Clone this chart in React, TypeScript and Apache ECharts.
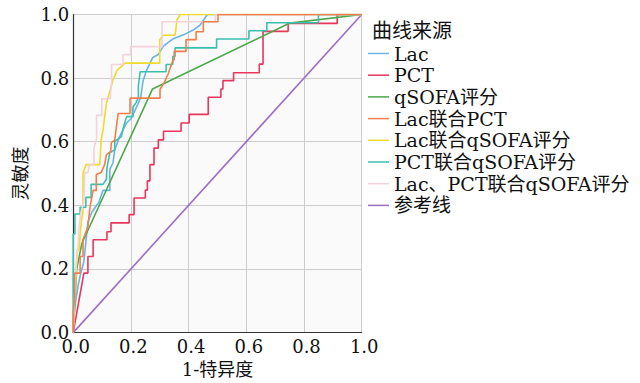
import React, { useEffect, useRef } from "react";
import * as echarts from "echarts";

const seriesNames = [
  "Lac",
  "PCT",
  "qSOFA评分",
  "Lac联合PCT",
  "Lac联合qSOFA评分",
  "PCT联合qSOFA评分",
  "Lac、PCT联合qSOFA评分",
  "参考线",
];
const seriesColors = ["#6cb4e4", "#e8365d", "#4ba84b", "#f27e4b", "#f0da2e", "#3bbfae", "#f2d3da", "#9b6fc4"];

const xTicks = [0, 0.2, 0.4, 0.6, 0.8, 1.0];

const lacRoc = [
  [0, 0], [0.006, 0.085], [0.017, 0.147], [0.024, 0.178], [0.037, 0.224], [0.044, 0.286], [0.051, 0.348],
  [0.065, 0.379], [0.089, 0.41], [0.103, 0.447], [0.127, 0.447], [0.127, 0.513], [0.138, 0.534], [0.144, 0.575],
  [0.161, 0.616], [0.184, 0.658], [0.201, 0.673], [0.225, 0.72], [0.234, 0.739], [0.242, 0.791], [0.253, 0.822],
  [0.276, 0.865], [0.295, 0.874], [0.312, 0.9], [0.347, 0.924], [0.382, 0.936], [0.416, 0.951], [0.44, 0.967],
  [0.465, 1], [1, 1],
];

const pctRoc = [
  [0, 0], [0.037, 0.187], [0.051, 0.187], [0.051, 0.239], [0.069, 0.239], [0.069, 0.292], [0.117, 0.292],
  [0.117, 0.317], [0.131, 0.317], [0.131, 0.345], [0.194, 0.345], [0.194, 0.371], [0.211, 0.371], [0.211, 0.423],
  [0.25, 0.423], [0.25, 0.448], [0.257, 0.448], [0.257, 0.477], [0.266, 0.477], [0.266, 0.528], [0.28, 0.528],
  [0.28, 0.58], [0.295, 0.58], [0.295, 0.606], [0.313, 0.606], [0.313, 0.633], [0.374, 0.633], [0.374, 0.659],
  [0.402, 0.659], [0.402, 0.686], [0.468, 0.686], [0.468, 0.74], [0.512, 0.74], [0.512, 0.766], [0.519, 0.766],
  [0.519, 0.792], [0.556, 0.792], [0.556, 0.817], [0.645, 0.817], [0.645, 0.844], [0.658, 0.844], [0.658, 0.947],
  [0.745, 0.947], [0.745, 0.972], [0.915, 0.972], [0.915, 1], [1, 1],
];

const qsofaRoc = [[0, 0], [0.012, 0.2], [0.03, 0.28], [0.275, 0.766], [0.751, 0.973], [1, 1]];

const lacPctRoc = [
  [0, 0], [0, 0.054], [0.005, 0.116], [0.005, 0.187], [0.024, 0.187], [0.024, 0.239], [0.034, 0.239],
  [0.034, 0.292], [0.051, 0.332], [0.058, 0.394], [0.069, 0.447], [0.08, 0.447], [0.08, 0.497], [0.097, 0.503],
  [0.109, 0.528], [0.115, 0.559], [0.13, 0.57], [0.132, 0.596], [0.144, 0.606], [0.149, 0.642], [0.156, 0.689],
  [0.197, 0.689], [0.197, 0.737], [0.301, 0.737], [0.301, 0.765], [0.315, 0.785], [0.329, 0.813], [0.343, 0.85],
  [0.35, 0.859], [0.35, 0.884], [0.391, 0.884], [0.391, 0.921], [0.426, 0.921], [0.426, 0.946], [0.451, 0.946],
  [0.451, 0.977], [0.502, 0.977], [0.502, 1], [1, 1],
];

const lacQsofaRoc = [
  [0, 0], [0.003, 0.08], [0.007, 0.14], [0.01, 0.2], [0.014, 0.26], [0.021, 0.26], [0.024, 0.31], [0.028, 0.35],
  [0.034, 0.379], [0.034, 0.503], [0.045, 0.528], [0.092, 0.528], [0.097, 0.606], [0.104, 0.642], [0.115, 0.72],
  [0.139, 0.797], [0.153, 0.826], [0.168, 0.838], [0.18, 0.847], [0.3, 0.847], [0.3, 0.921], [0.312, 0.935],
  [0.353, 0.935], [0.36, 0.983], [0.37, 1], [1, 1],
];

const pctQsofaRoc = [
  [0, 0], [0, 0.31], [0.006, 0.31], [0.006, 0.373], [0.024, 0.373], [0.024, 0.394], [0.044, 0.394],
  [0.044, 0.425], [0.062, 0.425], [0.062, 0.466], [0.103, 0.466], [0.115, 0.482], [0.117, 0.518], [0.127, 0.565],
  [0.144, 0.575], [0.144, 0.601], [0.167, 0.616], [0.173, 0.642], [0.185, 0.679], [0.207, 0.679], [0.207, 0.709],
  [0.218, 0.723], [0.226, 0.739], [0.226, 0.776], [0.232, 0.82], [0.322, 0.82], [0.322, 0.843], [0.345, 0.843],
  [0.345, 0.868], [0.353, 0.868], [0.353, 0.895], [0.497, 0.895], [0.497, 0.923], [0.609, 0.923], [0.609, 0.949],
  [0.671, 0.949], [0.671, 0.974], [0.85, 0.974], [0.85, 1], [1, 1],
];

const lacPctQsofaRoc = [
  [0, 0], [0.005, 0.12], [0.01, 0.2], [0.017, 0.27], [0.02, 0.33], [0.027, 0.379], [0.037, 0.41], [0.04, 0.503],
  [0.051, 0.503], [0.057, 0.528], [0.072, 0.528], [0.072, 0.58], [0.081, 0.611], [0.081, 0.683], [0.099, 0.683],
  [0.099, 0.735], [0.128, 0.735], [0.133, 0.791], [0.133, 0.843], [0.173, 0.843], [0.173, 0.874], [0.199, 0.874],
  [0.199, 0.899], [0.308, 0.899], [0.308, 0.977], [0.492, 0.977], [0.492, 1], [1, 1],
];

const referenceLine = [[0, 0], [1, 1]];

const seriesData = [lacRoc, pctRoc, qsofaRoc, lacPctRoc, lacQsofaRoc, pctQsofaRoc, lacPctQsofaRoc, referenceLine];
// drawing order (orange on top of the 1.0 edge)
const seriesZ = [2, 2, 2, 4, 3, 3, 3, 2];

const FONT = "'DejaVu Serif', 'Noto Sans CJK SC', serif";

export default function App() {
  const ref = useRef<HTMLDivElement>(null);
  useEffect(() => {
    if (!ref.current) return;
    const chart = echarts.init(ref.current, null, { renderer: "svg" });
    chart.setOption({
      animation: false,
      backgroundColor: "#ffffff",
      textStyle: { fontFamily: FONT },
      title: {
        text: "曲线来源",
        left: 372,
        top: 21,
        padding: 0,
        textStyle: { fontFamily: FONT, fontSize: 20, fontWeight: "normal", color: "#111" },
      },
      legend: {
        data: seriesNames,
        orient: "vertical",
        left: 368,
        top: 44,
        padding: 0,
        icon: "rect",
        itemWidth: 21,
        itemHeight: 1.5,
        itemGap: 2.7,
        itemTextGap: 1,
        textStyle: { fontFamily: FONT, fontSize: 19, lineHeight: 19, color: "#111" },
      },
      grid: {
        left: 73.2,
        right: 640 - 361.7,
        top: 14.5,
        bottom: 383 - 337.3,
        show: true,
        backgroundColor: "#fafafa",
        borderWidth: 0,
      },
      xAxis: {
        type: "value",
        min: 0,
        max: 1,
        interval: 0.2,
        name: "1-特异度",
        nameLocation: "middle",
        nameGap: 24,
        nameTextStyle: { fontFamily: FONT, fontSize: 18, color: "#111" },
        axisLine: { show: true, lineStyle: { color: "#333", width: 1.2 } },
        axisTick: { show: false },
        axisLabel: {
          margin: 7.5,
          fontFamily: FONT,
          fontSize: 18,
          lineHeight: 12,
          padding: [0, 0, 0, 5],
          color: "#111",
          formatter: (v: number) => (xTicks.includes(Math.round(v * 10) / 10) ? v.toFixed(1) : ""),
        },
        splitLine: { show: true, lineStyle: { color: "#cdcdcd", width: 1 } },
      },
      yAxis: {
        type: "value",
        min: 0,
        max: 1,
        interval: 0.2,
        name: "灵敏度",
        nameLocation: "middle",
        nameGap: 44,
        nameTextStyle: { fontFamily: FONT, fontSize: 18, color: "#111" },
        axisLine: { show: true, lineStyle: { color: "#333", width: 1.2 } },
        axisTick: { show: false },
        axisLabel: {
          margin: 4,
          fontFamily: FONT,
          fontSize: 18,
          lineHeight: 12,
          color: "#111",
          formatter: (v: number) => v.toFixed(1),
        },
        splitLine: { show: true, lineStyle: { color: "#cdcdcd", width: 1 } },
      },
      series: seriesNames.map((name, i) => ({
        name,
        type: "line",
        data: seriesData[i],
        showSymbol: false,
        symbol: "none",
        z: seriesZ[i],
        lineStyle: { color: seriesColors[i], width: 1.6 },
        itemStyle: { color: seriesColors[i] },
      })),
    });
    return () => chart.dispose();
  }, []);
  return <div ref={ref} style={{ position: "fixed", left: 0, top: 0, width: 640, height: 383 }} />;
}
